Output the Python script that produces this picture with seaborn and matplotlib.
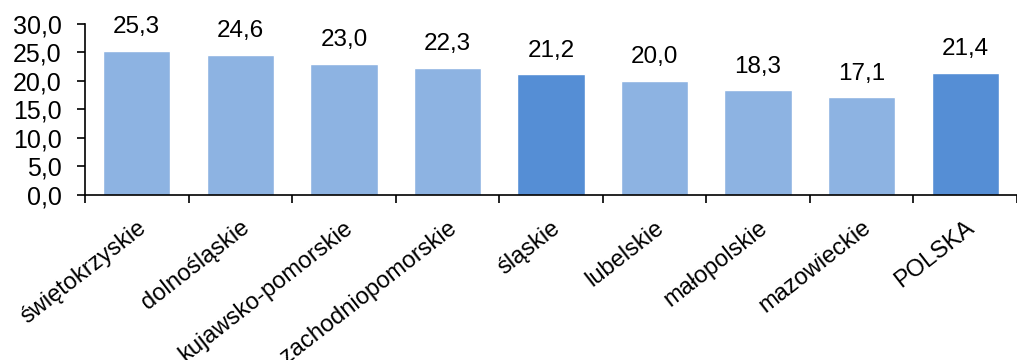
import numpy as np
import matplotlib
matplotlib.use("Agg")
import matplotlib.pyplot as plt
from matplotlib.ticker import FixedLocator, FuncFormatter
import seaborn as sns

# Data
regions = ["świętokrzyskie", "dolnośląskie", "kujawsko-pomorskie",
           "zachodniopomorskie", "śląskie", "lubelskie", "małopolskie",
           "mazowieckie", "POLSKA"]
values = [25.3, 24.6, 23.0, 22.3, 21.2, 20.0, 18.3, 17.1, 21.4]
highlight = ["śląskie", "POLSKA"]
y_ticks = [0, 5, 10, 15, 20, 25, 30]

light = "#8DB3E2"
dark = "#558ED5"
palette = {r: (dark if r in highlight else light) for r in regions}

sns.set_style("white")
plt.rcParams["font.family"] = ["Liberation Sans", "DejaVu Sans"]

fig = plt.figure(figsize=(10.17, 3.6), dpi=100)
ax = fig.add_axes([85 / 1017, 1 - 194.5 / 360, 1 - 85 / 1017, (194.5 - 24) / 360])

sns.barplot(x=regions, y=values, hue=regions, palette=palette, legend=False,
            width=0.65, saturation=1, ax=ax)

for c in ax.containers:
    ax.bar_label(c, fmt=lambda v: f"{v:.1f}".replace(".", ","), padding=9,
                 fontsize=17.5, color="black")

ax.set_xlim(-0.5, len(regions) - 0.5)
ax.set_ylim(0, 30)
ax.set_yticks(y_ticks)
ax.yaxis.set_major_formatter(FuncFormatter(lambda v, p: f"{v:.1f}".replace(".", ",")))
ax.tick_params(axis="y", labelsize=18, length=6, width=1.2, direction="out",
               pad=11, left=True, color="black", labelcolor="black")

# category labels at bar centres (small inward ticks), outward ticks between categories
# (the two longest labels run off the bottom edge, as in the original)
ax.set_xticks(np.arange(len(regions)))
ax.set_xticklabels(regions, rotation=38, ha="right", rotation_mode="anchor")
ax.tick_params(axis="x", which="major", length=4, width=1.2, direction="in",
               bottom=True, pad=16, labelsize=17, labelcolor="black", color="black")
ax.xaxis.set_minor_locator(FixedLocator(np.arange(len(regions) + 1) - 0.5))
ax.tick_params(axis="x", which="minor", length=6, width=1.2, direction="out",
               bottom=True, color="black")

ax.set_xlabel("")
ax.set_ylabel("")
for s in ["top", "right"]:
    ax.spines[s].set_visible(False)
for s in ["left", "bottom"]:
    ax.spines[s].set_color("black")
    ax.spines[s].set_linewidth(1.2)

fig.savefig("out.png", dpi=100)
